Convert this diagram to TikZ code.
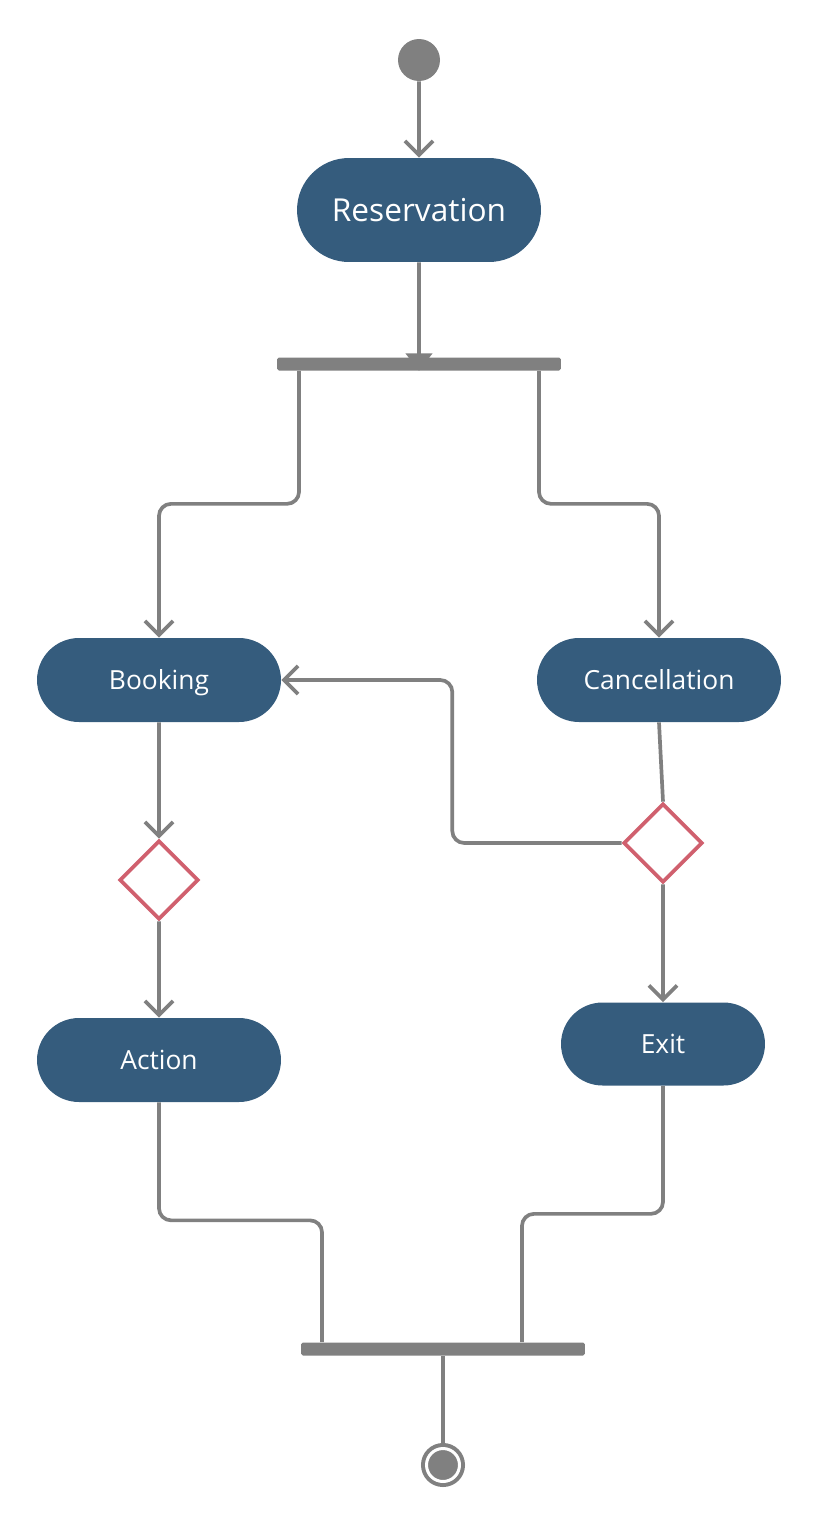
\documentclass[tikz,border=0pt]{standalone}
\usepackage{fontspec}
\setmainfont{Open Sans}
\usetikzlibrary{arrows.meta, positioning, shapes.geometric, shapes.misc}

\definecolor{actblue}{HTML}{355C7D}
\definecolor{flowgray}{HTML}{808080}
\definecolor{decred}{HTML}{D0606E}

\begin{document}
\begin{tikzpicture}[
    x=0.02cm, y=-0.02cm,
    activity/.style={rounded rectangle, fill=actblue, text=white, minimum width=4.88cm, minimum height=1.68cm, inner sep=0pt, text height=11.2pt, text depth=0pt, font=\fontsize{15}{18}\selectfont},
    decision/.style={diamond, draw=decred, line width=2.1pt, fill=white, minimum width=1.58cm, minimum height=1.58cm, inner sep=0pt},
    bar/.style={rectangle, fill=flowgray, rounded corners=1pt, minimum width=5.68cm, minimum height=0.26cm, inner sep=0pt},
    flow/.style={draw=flowgray, line width=2.1pt, rounded corners=0.24cm},
    arrow/.style={flow, -{Straight Barb[length=8pt, width=16pt]}}
]

\useasboundingbox (0,0) rectangle (821,1525);

% Start
\node[circle, fill=flowgray, minimum size=0.84cm, inner sep=0pt] (start) at (419,60) {};

% Activities
\node[activity, minimum height=2.08cm, text height=13.6pt, font=\fontsize{18}{22}\selectfont] (reservation) at (419,210) {Reservation};
\node[bar] (fork) at (419,364) {};
\node[activity] (booking) at (159,680) {Booking};
\node[activity] (cancellation) at (659,680) {Cancellation};
\node[decision] (dec_booking) at (159,880) {};
\node[decision] (dec_cancel) at (663,843) {};
\node[activity] (action) at (159,1060) {Action};
\node[activity, minimum width=4.08cm, minimum height=1.66cm] (exit) at (663,1044) {Exit};
\node[bar] (join) at (443,1349) {};

% End
\node[circle, fill=flowgray, draw=flowgray, line width=0.08cm, double=white, double distance=0.06cm, minimum size=0.66cm, inner sep=0pt] (finish) at (443,1465) {};

% Arrows
\draw[arrow] (start) -- (reservation);
\draw[flow, -{Triangle[length=10pt, width=15pt]}] (reservation) -- (fork.south);
\draw[arrow] ([xshift=-2.4cm]fork.south) -- ++(0,133) -| (booking.north);
\draw[arrow] ([xshift=2.4cm]fork.south) -- ++(0,133) -| (cancellation.north);
\foreach \i/\j in {booking/dec_booking, dec_booking/action, dec_cancel/exit}
    \draw[arrow] (\i) -- (\j);
\draw[flow] (cancellation.south) -- (dec_cancel.north);
\draw[arrow] (dec_cancel.west) -| ([xshift=3.42cm]booking.east) -- (booking.east);
\draw[flow] (action.south) -- ++(0,118) -| ([xshift=-2.42cm]join.north);
\draw[flow] (exit.south) -- ++(0,128) -| ([xshift=1.58cm]join.north);
\draw[flow] (join.south) -- (finish.north);

\end{tikzpicture}
\end{document}
